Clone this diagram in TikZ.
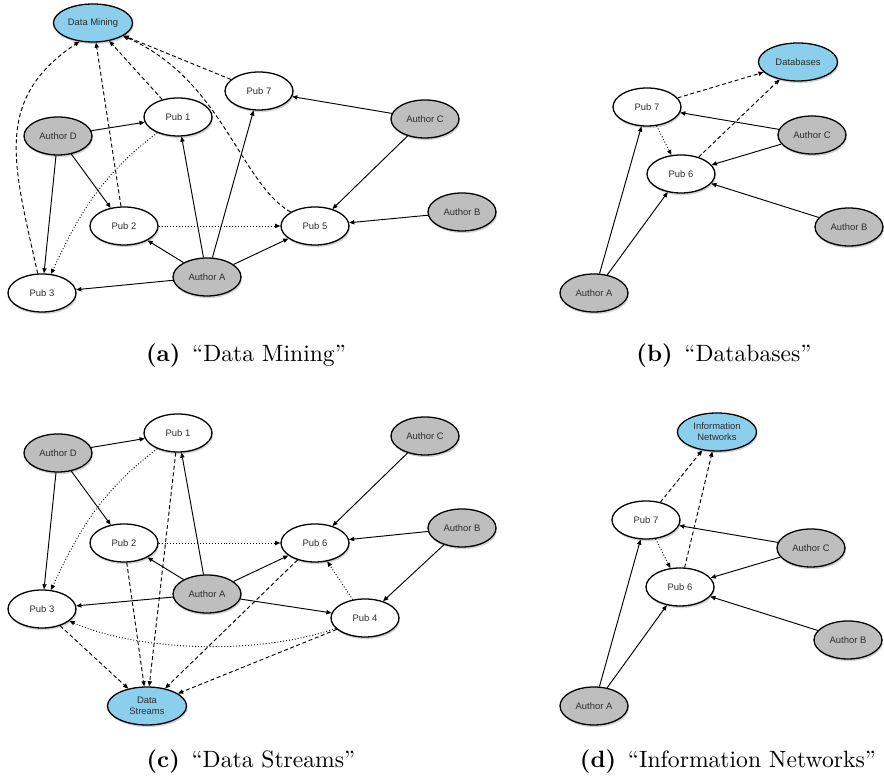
\documentclass[tikz,border=0pt]{standalone}
\usepackage{fontspec}
\newfontfamily\graphfont{Liberation Sans}
\usetikzlibrary{arrows.meta,shapes.geometric,shadows}
\definecolor{topicblue}{RGB}{140,207,236}
\definecolor{authorgray}{RGB}{190,190,190}
\definecolor{labelgray}{RGB}{45,45,45}
\tikzset{
  graphnode/.style={ellipse, draw=black, line width=0.55pt, inner sep=0.5pt,
    minimum width=28.8pt, minimum height=16.1pt, text=labelgray,
    font=\graphfont\fontsize{4}{4.6}\selectfont,
    drop shadow={shadow xshift=0.4pt, shadow yshift=-0.9pt, opacity=0.35}},
  pub/.style={graphnode, fill=white},
  author/.style={graphnode, fill=authorgray},
  topic/.style={graphnode, fill=topicblue, minimum width=33.5pt, align=center},
  link/.style={line width=0.4pt, -{Triangle[length=2.2pt,width=1.8pt]}},
  wrote/.style={link},
  cites/.style={link, dash pattern=on 0.4pt off 0.85pt},
  about/.style={link, dash pattern=on 1.7pt off 1.1pt},
  subcap/.style={font=\normalsize}
}

\begin{document}
\begin{tikzpicture}[x=0.4237pt, y=-0.4237pt]
  \useasboundingbox (0,0) rectangle (884,784);
  % (a) Data Mining
  \begin{scope}[name prefix=a-]
    \node[topic] (dm) at (93,23) {Data Mining};
    \node[pub] (p7) at (259,91) {Pub 7};
    \node[pub] (p1) at (178,117) {Pub 1};
    \node[author] (ad) at (58,136) {Author D};
    \node[author] (ac) at (425,119) {Author C};
    \node[pub] (p2) at (124,226) {Pub 2};
    \node[pub] (p5) at (315,226) {Pub 5};
    \node[author] (ab) at (462,212) {Author B};
    \node[author] (aa) at (207,277) {Author A};
    \node[pub] (p3) at (42,293) {Pub 3};
    \draw[wrote] (ad) -- (p1);
    \draw[wrote] (ad) -- (p2);
    \draw[wrote] (ad) -- (p3);
    \draw[wrote] (aa) -- (p1);
    \draw[wrote] (aa) -- (p7);
    \draw[wrote] (aa) -- (p2);
    \draw[wrote] (aa) -- (p3);
    \draw[wrote] (aa) -- (p5);
    \draw[wrote] (ac) -- (p7);
    \draw[wrote] (ac) -- (p5);
    \draw[wrote] (ab) -- (p5);
    \draw[cites] (p2) -- (p5);
    \draw[cites] (p1) .. controls (103,174) and (81,210) .. (p3);
    \draw[about] (p3) .. controls (14,166) and (-8,100) .. (dm.234);
    \draw[about] (p2) -- (dm);
    \draw[about] (p1) -- (dm);
    \draw[about] (p7) -- (dm);
    \draw[about] (p5) .. controls (240,183) and (222,79) .. (dm);
  \end{scope}
  \node[subcap] (capa) at (246,356) {\textbf{(a)}\enspace``Data Mining''};

  % (b) Databases
  \begin{scope}[name prefix=b-]
    \node[topic] (db) at (798,62) {Databases};
    \node[pub] (p7) at (647,107) {Pub 7};
    \node[author] (ac) at (812,135) {Author C};
    \node[pub] (p6) at (681,174) {Pub 6};
    \node[author] (ab) at (849,227) {Author B};
    \node[author] (aa) at (594,293) {Author A};
    \draw[wrote] (aa) -- (p7);
    \draw[wrote] (aa) -- (p6);
    \draw[wrote] (ac) -- (p7);
    \draw[wrote] (ac) -- (p6);
    \draw[wrote] (ab) -- (p6);
    \draw[cites] (p7) -- (p6);
    \draw[about] (p7) -- (db);
    \draw[about] (p6) -- (db);
  \end{scope}
  \node[subcap] (capb) at (724,356) {\textbf{(b)}\enspace``Databases''};

  % (c) Data Streams
  \begin{scope}[name prefix=c-]
    \node[pub] (p1) at (178,433) {Pub 1};
    \node[author] (ad) at (58,453) {Author D};
    \node[author] (ac) at (425,436) {Author C};
    \node[pub] (p2) at (124,543) {Pub 2};
    \node[pub] (p6) at (315,543) {Pub 6};
    \node[author] (ab) at (462,528) {Author B};
    \node[author] (aa) at (207,594) {Author A};
    \node[pub] (p3) at (42,609) {Pub 3};
    \node[pub] (p4) at (365,618) {Pub 4};
    \node[topic] (ds) at (147,706) {Data\\Streams};
    \draw[wrote] (ad) -- (p1);
    \draw[wrote] (ad) -- (p2);
    \draw[wrote] (ad) -- (p3);
    \draw[wrote] (aa) -- (p1);
    \draw[wrote] (aa) -- (p2);
    \draw[wrote] (aa) -- (p3);
    \draw[wrote] (aa) -- (p6);
    \draw[wrote] (aa) -- (p4);
    \draw[wrote] (ac) -- (p6);
    \draw[wrote] (ab) -- (p6);
    \draw[wrote] (ab) -- (p4);
    \draw[cites] (p2) -- (p6);
    \draw[cites] (p1) .. controls (103,490) and (81,526) .. (p3);
    \draw[cites] (p4) -- (p6);
    \draw[cites] (p4) .. controls (260,655) and (140,652) .. (p3);
    \draw[about] (p3) -- (ds);
    \draw[about] (p2) -- (ds);
    \draw[about] (p1) -- (ds);
    \draw[about] (p6) -- (ds);
    \draw[about] (p4) -- (ds);
  \end{scope}
  \node[subcap] (capc) at (251,762) {\textbf{(c)}\enspace``Data Streams''};

  % (d) Information Networks
  \begin{scope}[name prefix=d-]
    \node[topic] (in) at (717,432) {Information\\Networks};
    \node[pub] (p7) at (646,520) {Pub 7};
    \node[author] (ac) at (811,548) {Author C};
    \node[pub] (p6) at (680,587) {Pub 6};
    \node[author] (ab) at (848,640) {Author B};
    \node[author] (aa) at (594,706) {Author A};
    \draw[wrote] (aa) -- (p7);
    \draw[wrote] (aa) -- (p6);
    \draw[wrote] (ac) -- (p7);
    \draw[wrote] (ac) -- (p6);
    \draw[wrote] (ab) -- (p6);
    \draw[cites] (p7) -- (p6);
    \draw[about] (p7) -- (in);
    \draw[about] (p6) -- (in);
  \end{scope}
  \node[subcap] (capd) at (728,762) {\textbf{(d)}\enspace``Information Networks''};
\end{tikzpicture}
\end{document}
